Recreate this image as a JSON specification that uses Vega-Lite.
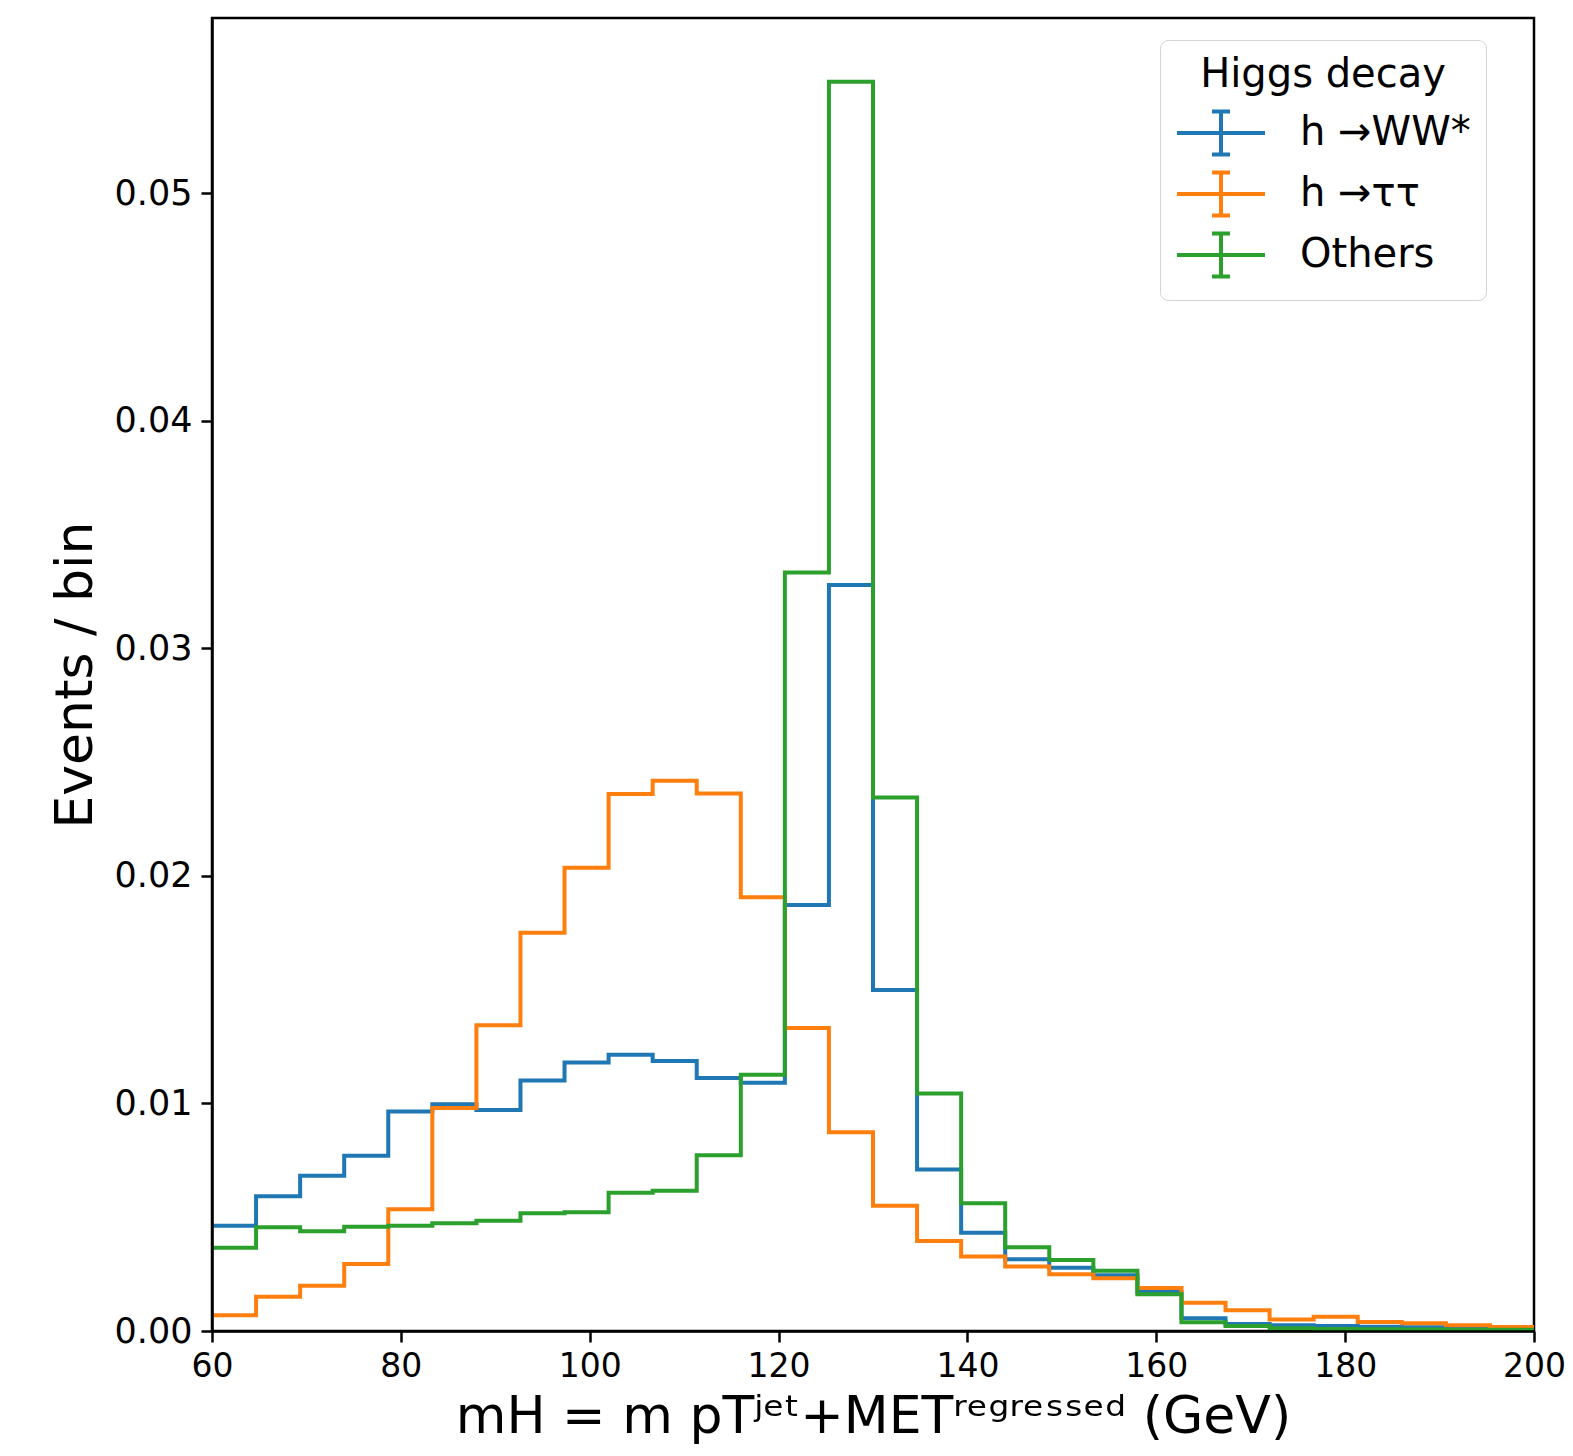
{
"$schema": "https://vega.github.io/schema/vega-lite/v6.json",
"width": 1322,
"height": 1313,
"autosize": {"type": "none"},
"padding": {"left": 212, "top": 18, "right": 39, "bottom": 125},
"background": "white",
"config": {"font": "DejaVu Sans", "view": {"stroke": "black", "strokeWidth": 2.5}},
"data": {"values": [
{"edge": 60.0, "val": 0.00463, "decay": "h →WW*"},
{"edge": 64.667, "val": 0.00592, "decay": "h →WW*"},
{"edge": 69.333, "val": 0.00682, "decay": "h →WW*"},
{"edge": 74.0, "val": 0.0077, "decay": "h →WW*"},
{"edge": 78.667, "val": 0.00965, "decay": "h →WW*"},
{"edge": 83.333, "val": 0.00996, "decay": "h →WW*"},
{"edge": 88.0, "val": 0.00971, "decay": "h →WW*"},
{"edge": 92.667, "val": 0.01101, "decay": "h →WW*"},
{"edge": 97.333, "val": 0.0118, "decay": "h →WW*"},
{"edge": 102.0, "val": 0.01214, "decay": "h →WW*"},
{"edge": 106.667, "val": 0.01186, "decay": "h →WW*"},
{"edge": 111.333, "val": 0.01112, "decay": "h →WW*"},
{"edge": 116.0, "val": 0.01091, "decay": "h →WW*"},
{"edge": 120.667, "val": 0.01872, "decay": "h →WW*"},
{"edge": 125.333, "val": 0.03278, "decay": "h →WW*"},
{"edge": 130.0, "val": 0.01498, "decay": "h →WW*"},
{"edge": 134.667, "val": 0.0071, "decay": "h →WW*"},
{"edge": 139.333, "val": 0.00432, "decay": "h →WW*"},
{"edge": 144.0, "val": 0.00315, "decay": "h →WW*"},
{"edge": 148.667, "val": 0.00278, "decay": "h →WW*"},
{"edge": 153.333, "val": 0.00245, "decay": "h →WW*"},
{"edge": 158.0, "val": 0.00171, "decay": "h →WW*"},
{"edge": 162.667, "val": 0.00056, "decay": "h →WW*"},
{"edge": 167.333, "val": 0.00031, "decay": "h →WW*"},
{"edge": 172.0, "val": 0.00025, "decay": "h →WW*"},
{"edge": 176.667, "val": 0.00022, "decay": "h →WW*"},
{"edge": 181.333, "val": 0.00019, "decay": "h →WW*"},
{"edge": 186.0, "val": 0.00016, "decay": "h →WW*"},
{"edge": 190.667, "val": 0.00013, "decay": "h →WW*"},
{"edge": 195.333, "val": 0.0001, "decay": "h →WW*"},
{"edge": 200.0, "val": 0.0001, "decay": "h →WW*"},
{"edge": 60.0, "val": 0.00069, "decay": "h →ττ"},
{"edge": 64.667, "val": 0.00151, "decay": "h →ττ"},
{"edge": 69.333, "val": 0.00199, "decay": "h →ττ"},
{"edge": 74.0, "val": 0.00294, "decay": "h →ττ"},
{"edge": 78.667, "val": 0.00535, "decay": "h →ττ"},
{"edge": 83.333, "val": 0.0098, "decay": "h →ττ"},
{"edge": 88.0, "val": 0.01344, "decay": "h →ττ"},
{"edge": 92.667, "val": 0.0175, "decay": "h →ττ"},
{"edge": 97.333, "val": 0.02036, "decay": "h →ττ"},
{"edge": 102.0, "val": 0.0236, "decay": "h →ττ"},
{"edge": 106.667, "val": 0.02418, "decay": "h →ττ"},
{"edge": 111.333, "val": 0.02362, "decay": "h →ττ"},
{"edge": 116.0, "val": 0.01906, "decay": "h →ττ"},
{"edge": 120.667, "val": 0.01331, "decay": "h →ττ"},
{"edge": 125.333, "val": 0.00873, "decay": "h →ττ"},
{"edge": 130.0, "val": 0.0055, "decay": "h →ττ"},
{"edge": 134.667, "val": 0.00395, "decay": "h →ττ"},
{"edge": 139.333, "val": 0.00327, "decay": "h →ττ"},
{"edge": 144.0, "val": 0.00283, "decay": "h →ττ"},
{"edge": 148.667, "val": 0.00249, "decay": "h →ττ"},
{"edge": 153.333, "val": 0.00232, "decay": "h →ττ"},
{"edge": 158.0, "val": 0.00189, "decay": "h →ττ"},
{"edge": 162.667, "val": 0.00124, "decay": "h →ττ"},
{"edge": 167.333, "val": 0.00091, "decay": "h →ττ"},
{"edge": 172.0, "val": 0.00051, "decay": "h →ττ"},
{"edge": 176.667, "val": 0.00063, "decay": "h →ττ"},
{"edge": 181.333, "val": 0.0004, "decay": "h →ττ"},
{"edge": 186.0, "val": 0.00034, "decay": "h →ττ"},
{"edge": 190.667, "val": 0.00025, "decay": "h →ττ"},
{"edge": 195.333, "val": 0.00018, "decay": "h →ττ"},
{"edge": 200.0, "val": 0.00018, "decay": "h →ττ"},
{"edge": 60.0, "val": 0.00366, "decay": "Others"},
{"edge": 64.667, "val": 0.00456, "decay": "Others"},
{"edge": 69.333, "val": 0.00438, "decay": "Others"},
{"edge": 74.0, "val": 0.00458, "decay": "Others"},
{"edge": 78.667, "val": 0.00463, "decay": "Others"},
{"edge": 83.333, "val": 0.00473, "decay": "Others"},
{"edge": 88.0, "val": 0.00485, "decay": "Others"},
{"edge": 92.667, "val": 0.00517, "decay": "Others"},
{"edge": 97.333, "val": 0.00522, "decay": "Others"},
{"edge": 102.0, "val": 0.00608, "decay": "Others"},
{"edge": 106.667, "val": 0.00616, "decay": "Others"},
{"edge": 111.333, "val": 0.00772, "decay": "Others"},
{"edge": 116.0, "val": 0.01126, "decay": "Others"},
{"edge": 120.667, "val": 0.03333, "decay": "Others"},
{"edge": 125.333, "val": 0.0549, "decay": "Others"},
{"edge": 130.0, "val": 0.02345, "decay": "Others"},
{"edge": 134.667, "val": 0.01044, "decay": "Others"},
{"edge": 139.333, "val": 0.00561, "decay": "Others"},
{"edge": 144.0, "val": 0.00368, "decay": "Others"},
{"edge": 148.667, "val": 0.00312, "decay": "Others"},
{"edge": 153.333, "val": 0.00265, "decay": "Others"},
{"edge": 158.0, "val": 0.00161, "decay": "Others"},
{"edge": 162.667, "val": 0.00038, "decay": "Others"},
{"edge": 167.333, "val": 0.00022, "decay": "Others"},
{"edge": 172.0, "val": 0.00012, "decay": "Others"},
{"edge": 176.667, "val": 0.00009, "decay": "Others"},
{"edge": 181.333, "val": 0.00008, "decay": "Others"},
{"edge": 186.0, "val": 0.00007, "decay": "Others"},
{"edge": 190.667, "val": 0.00006, "decay": "Others"},
{"edge": 195.333, "val": 0.00005, "decay": "Others"},
{"edge": 200.0, "val": 0.00005, "decay": "Others"}
]},
"mark": {"type": "line", "interpolate": "step-after", "strokeWidth": 4, "clip": true},
"encoding": {
"x": {"field": "edge", "type": "quantitative",
 "scale": {"domain": [60, 200], "nice": false, "zero": false},
 "axis": {"title": "mH = m pTʲᵉᵗ+METʳᵉᵍʳᵉˢˢᵉᵈ (GeV)", "values": [60, 80, 100, 120, 140, 160, 180, 200], "format": "d",
  "labelFontSize": 33, "labelColor": "black", "labelPadding": 8, "labelFlush": false,
  "tickColor": "black", "tickSize": 11, "tickWidth": 2.5,
  "domainColor": "black", "domainWidth": 2.5, "grid": false,
  "titleFontSize": 52, "titleFontWeight": "normal", "titleColor": "black", "titlePadding": 8, "titleLimit": 0, "zindex": 1}},
"y": {"field": "val", "type": "quantitative",
 "scale": {"domain": [0, 0.0577], "nice": false},
 "axis": {"title": "Events / bin", "values": [0, 0.01, 0.02, 0.03, 0.04, 0.05], "format": ".2f",
  "labelFontSize": 35, "labelColor": "black", "labelPadding": 9, "labelFlush": false,
  "tickColor": "black", "tickSize": 11, "tickWidth": 2.5,
  "domainColor": "black", "domainWidth": 2.5, "grid": false,
  "titleFontSize": 52, "titleFontWeight": "normal", "titleColor": "black", "titlePadding": 12, "zindex": 1}},
"color": {"field": "decay", "type": "nominal",
 "scale": {"domain": ["h →WW*", "h →ττ", "Others"], "range": ["#1f77b4", "#ff7f0e", "#2ca02c"]},
 "legend": {"title": "Higgs decay", "orient": "none", "legendX": 948, "legendY": 22,
  "titleFontSize": 40, "titleFontWeight": "normal", "titleColor": "black", "titleAnchor": "middle", "titleAlign": "center", "titlePadding": 16, "titleLimit": 0,
  "labelFontSize": 40, "labelColor": "black", "labelOffset": 81, "labelLimit": 0,
  "symbolType": "M-1,0H3.4M1.2,-1.075V1.075M0.75,-1.075H1.65M0.75,1.075H1.65", "symbolSize": 1600, "symbolStrokeWidth": 4,
  "rowPadding": 1, "padding": 15, "fillColor": "white", "strokeColor": "#d4d4d4", "cornerRadius": 8}}
}
}
